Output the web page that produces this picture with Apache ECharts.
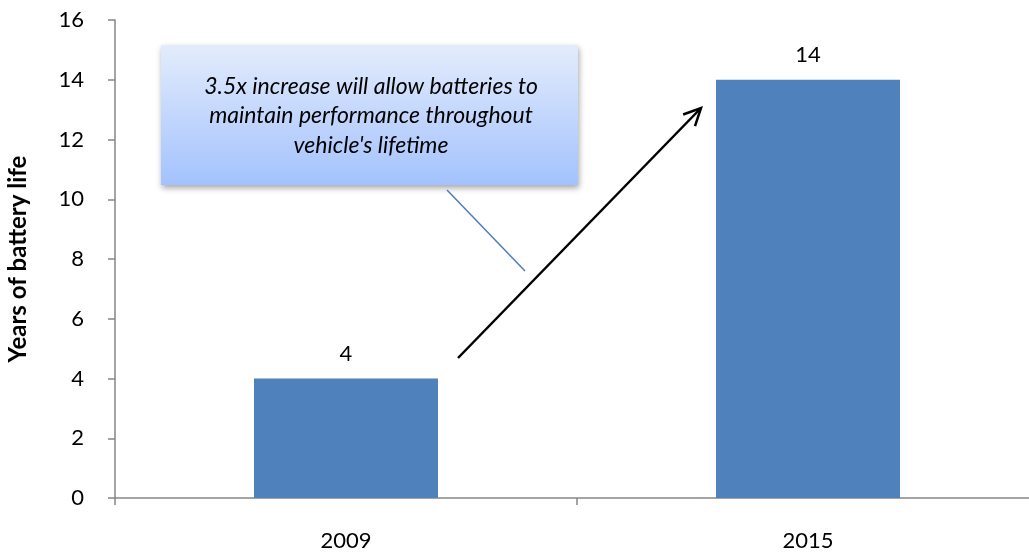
<!DOCTYPE html>
<html>
<head>
<meta charset="utf-8">
<script src="https://cdn.jsdelivr.net/npm/echarts@6/dist/echarts.min.js"></script>
<style>
html,body{margin:0;padding:0;background:#fff;}
#chart{width:1029px;height:554px;}
</style>
</head>
<body>
<div id="chart"></div>
<script>
const categories = ['2009', '2015'];
const batteryLife = [4, 14];
const yTicks = { min: 0, max: 16, interval: 2 };
const axisName = 'Years of battery life';
const calloutText = "3.5x increase will allow batteries to\nmaintain performance throughout\nvehicle's lifetime";

const chart = echarts.init(document.getElementById('chart'));
const FONT = 'Lato, "Open Sans", sans-serif';

// arrow geometry (annotation, pixel space)
const a0 = [458, 358], a1 = [701, 108];
const dx = a1[0] - a0[0], dy = a1[1] - a0[1];
const L = Math.sqrt(dx * dx + dy * dy);
const ux = -dx / L, uy = -dy / L;
function rot(x, y, ang) { const c = Math.cos(ang), s = Math.sin(ang); return [x * c - y * s, x * s + y * c]; }
const h1 = rot(ux, uy, 0.45), h2 = rot(ux, uy, -0.45);
const HL = 19;

chart.setOption({
  animation: false,
  grid: { left: 115, width: 924, top: 20, bottom: 56, containLabel: false, outerBoundsMode: 'none' },
  xAxis: {
    type: 'category',
    data: categories,
    boundaryGap: true,
    axisLine: { lineStyle: { color: '#868686', width: 1.5 } },
    axisTick: { show: true, length: 7, lineStyle: { color: '#868686', width: 1.5 } },
    axisLabel: { color: '#000', fontSize: 22, fontFamily: FONT, margin: 32 }
  },
  yAxis: {
    type: 'value',
    min: yTicks.min, max: yTicks.max, interval: yTicks.interval,
    name: axisName,
    nameLocation: 'middle',
    nameGap: 85,
    nameTextStyle: { color: '#000', fontSize: 24, fontWeight: 'bold', fontFamily: FONT },
    axisLine: { show: true, lineStyle: { color: '#868686', width: 1.5 } },
    axisTick: { show: true, length: 7, lineStyle: { color: '#868686', width: 1.5 } },
    splitLine: { show: false },
    axisLabel: { color: '#000', fontSize: 22, fontFamily: FONT, margin: 31 }
  },
  series: [{
    type: 'bar',
    data: batteryLife,
    barWidth: 184,
    itemStyle: { color: '#4F81BD' },
    label: { show: true, position: 'top', distance: 14, color: '#000', fontSize: 22, fontFamily: FONT }
  }],
  graphic: [
    {
      type: 'rect',
      shape: { x: 161, y: 45, width: 417, height: 140 },
      style: {
        fill: new echarts.graphic.LinearGradient(0, 0, 0, 1, [
          { offset: 0, color: '#E3ECFC' },
          { offset: 1, color: '#A3C2FD' }
        ]),
        shadowBlur: 6, shadowOffsetX: 1, shadowOffsetY: 3, shadowColor: 'rgba(0,0,0,0.35)'
      },
      z: 10
    },
    {
      type: 'text',
      x: 371, y: 116,
      style: {
        text: calloutText,
        fill: '#000',
        font: 'italic 23px ' + FONT,
        align: 'center', verticalAlign: 'middle',
        lineHeight: 29.5
      },
      z: 11
    },
    {
      type: 'line',
      shape: { x1: 447, y1: 190, x2: 525, y2: 271 },
      style: { stroke: '#4A7EBB', lineWidth: 1.5 },
      z: 10
    },
    {
      type: 'line',
      shape: { x1: a0[0], y1: a0[1], x2: a1[0], y2: a1[1] },
      style: { stroke: '#000', lineWidth: 2.5 },
      z: 10
    },
    {
      type: 'polyline',
      shape: { points: [[a1[0] + h1[0] * HL, a1[1] + h1[1] * HL], a1, [a1[0] + h2[0] * HL, a1[1] + h2[1] * HL]] },
      style: { stroke: '#000', lineWidth: 2.5, fill: null },
      z: 10
    }
  ]
});
</script>
</body>
</html>
